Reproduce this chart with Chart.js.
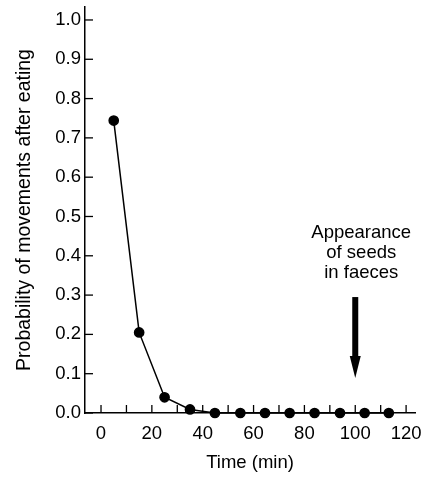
<!DOCTYPE html>
<html>
<head>
<meta charset="utf-8">
<script src="https://cdn.jsdelivr.net/npm/chart.js@4/dist/chart.umd.min.js"></script>
<style>
html,body{margin:0;padding:0;background:#fff;}
#wrap{width:426px;height:477px;position:relative;}
</style>
</head>
<body>
<div id="wrap"><canvas id="c" width="426" height="477"></canvas></div>
<script>
const timeMin = [5, 15, 25, 35, 44.8, 54.8, 64.5, 74.2, 84, 94, 103.7, 113.2];
const probability = [0.744, 0.205, 0.040, 0.009, 0, 0, 0, 0, 0, 0, 0, 0];
const xTicks = [0, 10, 20, 30, 40, 50, 60, 70, 80, 90, 100, 110, 120];
const yTicks = [0, 0.1, 0.2, 0.3, 0.4, 0.5, 0.6, 0.7, 0.8, 0.9, 1.0];
const noteLines = ["Appearance", "of seeds", "in faeces"];
const noteX = 100;
const arrowTop = 0.295;
const arrowTip = 0.089;

const FONT = "'Liberation Sans', Arial, Helvetica, sans-serif";

const insideTicks = {
  id: 'insideTicks',
  afterDatasetsDraw(chart) {
    const ctx = chart.ctx;
    const xs = chart.scales.x, ys = chart.scales.y;
    ctx.save();
    ctx.strokeStyle = '#000';
    ctx.lineWidth = 1.3;
    const y0 = ys.getPixelForValue(0);
    xTicks.forEach(v => {
      const px = xs.getPixelForValue(v);
      ctx.beginPath();
      ctx.moveTo(px, y0);
      ctx.lineTo(px, y0 - 8);
      ctx.stroke();
    });
    const x0 = xs.left;
    yTicks.forEach(v => {
      const py = ys.getPixelForValue(v);
      ctx.beginPath();
      ctx.moveTo(x0, py);
      ctx.lineTo(x0 + 8, py);
      ctx.stroke();
    });
    // annotation
    const ax = xs.getPixelForValue(noteX);
    ctx.fillStyle = '#000';
    ctx.font = '18.5px ' + FONT;
    ctx.textAlign = 'center';
    ctx.textBaseline = 'middle';
    const tx = ax + 6;
    noteLines.forEach((t, i) => {
      ctx.fillText(t, tx, 233 + i * 20);
    });
    const yT = ys.getPixelForValue(arrowTop);
    const yB = ys.getPixelForValue(arrowTip);
    const headH = 22;
    ctx.fillRect(ax - 3, yT, 6, (yB - yT) - headH + 1);
    ctx.beginPath();
    ctx.moveTo(ax - 5.5, yB - headH);
    ctx.lineTo(ax + 5.5, yB - headH);
    ctx.lineTo(ax, yB);
    ctx.closePath();
    ctx.fill();
    ctx.restore();
  }
};

new Chart(document.getElementById('c'), {
  type: 'scatter',
  data: {
    datasets: [{
      data: timeMin.map((t, i) => ({x: t, y: probability[i]})),
      showLine: true,
      borderColor: '#000',
      backgroundColor: '#000',
      borderWidth: 1.5,
      pointRadius: 4.6,
      pointHoverRadius: 4.6,
      pointBackgroundColor: '#000',
      pointBorderColor: '#000',
      clip: false
    }]
  },
  options: {
    responsive: false,
    animation: false,
    events: [],
    layout: {padding: {top: 7, right: 11, left: 0, bottom: 0}},
    plugins: {legend: {display: false}, tooltip: {enabled: false}},
    scales: {
      x: {
        type: 'linear',
        min: -6.3,
        max: 123.5,
        afterBuildTicks(s) { s.ticks = xTicks.map(v => ({value: v})); },
        afterFit(s) { s.height = 64; s.paddingLeft = 0; s.paddingRight = 0; },
        grid: {display: false, drawTicks: false},
        border: {display: true, color: '#000', width: 1.5},
        ticks: {
          color: '#000',
          font: {family: FONT, size: 18.5},
          padding: 10,
          maxRotation: 0,
          autoSkip: false,
          callback: v => (v % 20 === 0 ? String(v) : '')
        },
        title: {
          display: true,
          text: 'Time (min)',
          color: '#000',
          font: {family: FONT, size: 18.5},
          padding: {top: 0, bottom: 3}
        }
      },
      y: {
        type: 'linear',
        min: 0,
        max: 1.033,
        afterBuildTicks(s) { s.ticks = yTicks.map(v => ({value: v})); },
        afterFit(s) { s.width = 85; s.paddingTop = 0; s.paddingBottom = 0; },
        grid: {display: false, drawTicks: false},
        border: {display: true, color: '#000', width: 1.5},
        ticks: {
          color: '#000',
          font: {family: FONT, size: 18.5},
          padding: 4,
          autoSkip: false,
          callback: v => v.toFixed(1)
        },
        title: {
          display: true,
          text: 'Probability of movements after eating',
          color: '#000',
          font: {family: FONT, size: 19.5},
          padding: {top: 13, bottom: 0}
        }
      }
    }
  },
  plugins: [insideTicks]
});
</script>
</body>
</html>
